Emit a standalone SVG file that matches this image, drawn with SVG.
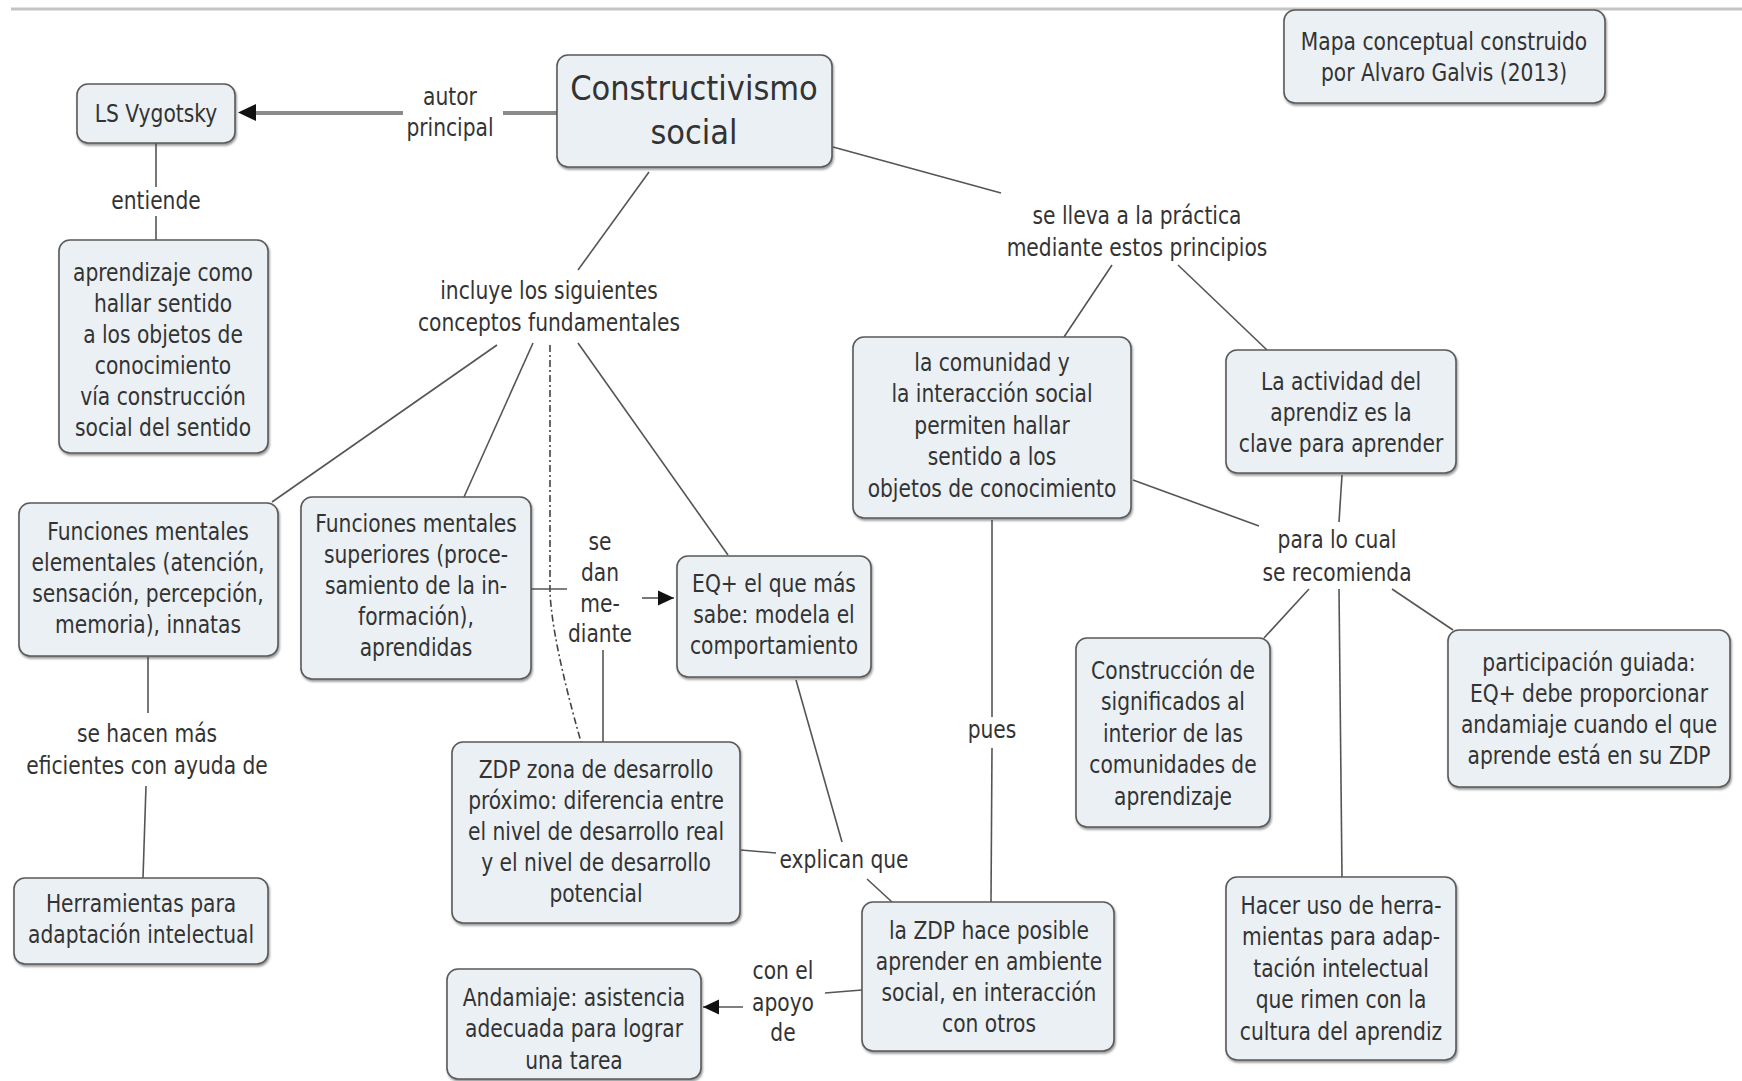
<svg xmlns="http://www.w3.org/2000/svg" width="1742" height="1081" viewBox="0 0 1742 1081">
<style>
.box{fill:#eaf0f3;stroke:#5a5a5a;stroke-width:1.6;filter:url(#sh)}
.t{font-family:"DejaVu Sans","Verdana",sans-serif;font-size:25px;fill:#333;text-anchor:middle}
.tt{font-family:"DejaVu Sans","Verdana",sans-serif;font-size:34px;fill:#333;text-anchor:middle}
.ln{stroke:#555;stroke-width:1.6;fill:none}
.thick{stroke:#8a8a8a;stroke-width:4;fill:none}
.dash{stroke:#444;stroke-width:1.6;fill:none;stroke-dasharray:7 3 2 3}
</style>
<defs>
<filter id="sh" x="-5%" y="-5%" width="110%" height="120%">
<feDropShadow dx="1" dy="2" stdDeviation="1" flood-color="#444" flood-opacity="0.55"/>
</filter>
<marker id="ah2" viewBox="0 0 16 16" refX="16" refY="8" markerWidth="16" markerHeight="16" markerUnits="userSpaceOnUse" orient="auto">
<path d="M0,0.5 L16,8 L0,15.5 Z" fill="#111"/>
</marker>
</defs>
<rect width="1742" height="1081" fill="#fff"/>
<line x1="11" y1="9" x2="1742" y2="9" stroke="#c4c4c4" stroke-width="3"/>

<g id="connectors">
<line class="thick" x1="557" y1="113" x2="503" y2="113"/>
<line class="thick" x1="403" y1="113" x2="254" y2="113"/>
<path d="M256,104 L238,112.5 L256,121 Z" fill="#111"/>
<line class="ln" x1="156" y1="143" x2="156" y2="187"/>
<line class="ln" x1="156" y1="216" x2="156" y2="240"/>
<line class="ln" x1="649" y1="172" x2="578" y2="270"/>
<line class="ln" x1="497" y1="345" x2="272" y2="502"/>
<line class="ln" x1="533" y1="343" x2="464" y2="497"/>
<path class="dash" d="M550,345 L550,592 Q552,640 581,742"/>
<line class="ln" x1="578" y1="343" x2="728" y2="555"/>
<line class="ln" x1="531" y1="589" x2="567" y2="589"/>
<line class="ln" x1="642" y1="598" x2="674" y2="598" marker-end="url(#ah2)"/>
<line class="ln" x1="603" y1="650" x2="603" y2="742"/>
<line class="ln" x1="148" y1="657" x2="148" y2="713"/>
<line class="ln" x1="146" y1="786" x2="143" y2="878"/>
<line class="ln" x1="741" y1="850" x2="776" y2="853"/>
<line class="ln" x1="796" y1="680" x2="842" y2="842"/>
<line class="ln" x1="867" y1="879" x2="892" y2="902"/>
<line class="ln" x1="862" y1="990" x2="825" y2="993"/>
<line class="ln" x1="743" y1="1007" x2="703" y2="1007" marker-end="url(#ah2)"/>
<line class="ln" x1="833" y1="147" x2="1001" y2="193"/>
<line class="ln" x1="1112" y1="265" x2="1064" y2="337"/>
<line class="ln" x1="1178" y1="265" x2="1267" y2="350"/>
<line class="ln" x1="1133" y1="480" x2="1259" y2="526"/>
<line class="ln" x1="1342" y1="475" x2="1339" y2="522"/>
<line class="ln" x1="1309" y1="589" x2="1264" y2="638"/>
<line class="ln" x1="1339" y1="589" x2="1342" y2="877"/>
<line class="ln" x1="1392" y1="589" x2="1453" y2="630"/>
<line class="ln" x1="992" y1="520" x2="992" y2="717"/>
<line class="ln" x1="992" y1="748" x2="991" y2="902"/>
</g>

<g id="labels">
<text class="t" transform="translate(450 0) scale(0.81 1)"><tspan x="0" y="105">autor</tspan><tspan x="0" y="136">principal</tspan></text>
<text class="t" transform="translate(156 0) scale(0.81 1)"><tspan x="0" y="209">entiende</tspan></text>
<text class="t" transform="translate(549 0) scale(0.81 1)"><tspan x="0" y="299">incluye los siguientes</tspan><tspan x="0" y="331">conceptos fundamentales</tspan></text>
<text class="t" transform="translate(1137 0) scale(0.81 1)"><tspan x="0" y="224">se lleva a la práctica</tspan><tspan x="0" y="256">mediante estos principios</tspan></text>
<text class="t" transform="translate(600 0) scale(0.81 1)"><tspan x="0" y="550">se</tspan><tspan x="0" y="581">dan</tspan><tspan x="0" y="612">me-</tspan><tspan x="0" y="642">diante</tspan></text>
<text class="t" transform="translate(147 0) scale(0.81 1)"><tspan x="0" y="742">se hacen más</tspan><tspan x="0" y="774">eficientes con ayuda de</tspan></text>
<text class="t" transform="translate(844 0) scale(0.81 1)"><tspan x="0" y="868">explican que</tspan></text>
<text class="t" transform="translate(783 0) scale(0.81 1)"><tspan x="0" y="979">con el</tspan><tspan x="0" y="1011">apoyo</tspan><tspan x="0" y="1041">de</tspan></text>
<text class="t" transform="translate(992 0) scale(0.81 1)"><tspan x="0" y="738">pues</tspan></text>
<text class="t" transform="translate(1337 0) scale(0.81 1)"><tspan x="0" y="548">para lo cual</tspan><tspan x="0" y="581">se recomienda</tspan></text>
</g>

<g id="n-constructivismo">
<rect class="box" x="557" y="55" width="275" height="112" rx="11"/>
<text class="tt" transform="translate(694 0) scale(0.9 1)"><tspan x="0" y="100">Constructivismo</tspan><tspan x="0" y="144">social</tspan></text>
</g>
<g id="n-vygotsky">
<rect class="box" x="77" y="84" width="158" height="59" rx="11"/>
<text class="t" transform="translate(156 0) scale(0.81 1)"><tspan x="0" y="122">LS Vygotsky</tspan></text>
</g>
<g id="n-mapa">
<rect class="box" x="1284" y="10" width="321" height="93" rx="11"/>
<text class="t" transform="translate(1444 0) scale(0.81 1)"><tspan x="0" y="50">Mapa conceptual construido</tspan><tspan x="0" y="81">por Alvaro Galvis (2013)</tspan></text>
</g>
<g id="n-aprendizaje">
<rect class="box" x="59" y="240" width="209" height="213" rx="11"/>
<text class="t" transform="translate(163 0) scale(0.81 1)"><tspan x="0" y="281">aprendizaje como</tspan><tspan x="0" y="312">hallar sentido</tspan><tspan x="0" y="343">a los objetos de</tspan><tspan x="0" y="374">conocimiento</tspan><tspan x="0" y="405">vía construcción</tspan><tspan x="0" y="436">social del sentido</tspan></text>
</g>
<g id="n-elementales">
<rect class="box" x="19" y="503" width="259" height="153" rx="11"/>
<text class="t" transform="translate(148 0) scale(0.81 1)"><tspan x="0" y="540">Funciones mentales</tspan><tspan x="0" y="571">elementales (atención,</tspan><tspan x="0" y="602">sensación, percepción,</tspan><tspan x="0" y="633">memoria), innatas</tspan></text>
</g>
<g id="n-superiores">
<rect class="box" x="301" y="497" width="230" height="182" rx="11"/>
<text class="t" transform="translate(416 0) scale(0.81 1)"><tspan x="0" y="532">Funciones mentales</tspan><tspan x="0" y="563">superiores (proce-</tspan><tspan x="0" y="594">samiento de la in-</tspan><tspan x="0" y="625">formación),</tspan><tspan x="0" y="656">aprendidas</tspan></text>
</g>
<g id="n-eq">
<rect class="box" x="677" y="556" width="194" height="121" rx="11"/>
<text class="t" transform="translate(774 0) scale(0.81 1)"><tspan x="0" y="592">EQ+ el que más</tspan><tspan x="0" y="623">sabe: modela el</tspan><tspan x="0" y="654">comportamiento</tspan></text>
</g>
<g id="n-zdp">
<rect class="box" x="452" y="742" width="288" height="181" rx="11"/>
<text class="t" transform="translate(596 0) scale(0.81 1)"><tspan x="0" y="778">ZDP zona de desarrollo</tspan><tspan x="0" y="809">próximo: diferencia entre</tspan><tspan x="0" y="840">el nivel de desarrollo real</tspan><tspan x="0" y="871">y el nivel de desarrollo</tspan><tspan x="0" y="902">potencial</tspan></text>
</g>
<g id="n-herramientas">
<rect class="box" x="14" y="878" width="254" height="86" rx="11"/>
<text class="t" transform="translate(141 0) scale(0.81 1)"><tspan x="0" y="912">Herramientas para</tspan><tspan x="0" y="943">adaptación intelectual</tspan></text>
</g>
<g id="n-zdp-posible">
<rect class="box" x="862" y="902" width="252" height="149" rx="11"/>
<text class="t" transform="translate(989 0) scale(0.81 1)"><tspan x="0" y="939">la ZDP hace posible</tspan><tspan x="0" y="970">aprender en ambiente</tspan><tspan x="0" y="1001">social, en interacción</tspan><tspan x="0" y="1032">con otros</tspan></text>
</g>
<g id="n-andamiaje">
<rect class="box" x="447" y="969" width="254" height="110" rx="11"/>
<text class="t" transform="translate(574 0) scale(0.81 1)"><tspan x="0" y="1006">Andamiaje: asistencia</tspan><tspan x="0" y="1037">adecuada para lograr</tspan><tspan x="0" y="1069">una tarea</tspan></text>
</g>
<g id="n-comunidad">
<rect class="box" x="853" y="337" width="278" height="181" rx="11"/>
<text class="t" transform="translate(992 0) scale(0.81 1)"><tspan x="0" y="371">la comunidad y</tspan><tspan x="0" y="402">la interacción social</tspan><tspan x="0" y="434">permiten hallar</tspan><tspan x="0" y="465">sentido a los</tspan><tspan x="0" y="497">objetos de conocimiento</tspan></text>
</g>
<g id="n-actividad">
<rect class="box" x="1226" y="350" width="230" height="123" rx="11"/>
<text class="t" transform="translate(1341 0) scale(0.81 1)"><tspan x="0" y="390">La actividad del</tspan><tspan x="0" y="421">aprendiz es la</tspan><tspan x="0" y="452">clave para aprender</tspan></text>
</g>
<g id="n-construccion">
<rect class="box" x="1076" y="638" width="194" height="189" rx="11"/>
<text class="t" transform="translate(1173 0) scale(0.81 1)"><tspan x="0" y="679">Construcción de</tspan><tspan x="0" y="710">significados al</tspan><tspan x="0" y="742">interior de las</tspan><tspan x="0" y="773">comunidades de</tspan><tspan x="0" y="805">aprendizaje</tspan></text>
</g>
<g id="n-participacion">
<rect class="box" x="1448" y="630" width="282" height="157" rx="11"/>
<text class="t" transform="translate(1589 0) scale(0.81 1)"><tspan x="0" y="671">participación guiada:</tspan><tspan x="0" y="702">EQ+ debe proporcionar</tspan><tspan x="0" y="733">andamiaje cuando el que</tspan><tspan x="0" y="764">aprende está en su ZDP</tspan></text>
</g>
<g id="n-hacer-uso">
<rect class="box" x="1226" y="877" width="230" height="183" rx="11"/>
<text class="t" transform="translate(1341 0) scale(0.81 1)"><tspan x="0" y="914">Hacer uso de herra-</tspan><tspan x="0" y="945">mientas para adap-</tspan><tspan x="0" y="977">tación intelectual</tspan><tspan x="0" y="1008">que rimen con la</tspan><tspan x="0" y="1040">cultura del aprendiz</tspan></text>
</g>
</svg>
